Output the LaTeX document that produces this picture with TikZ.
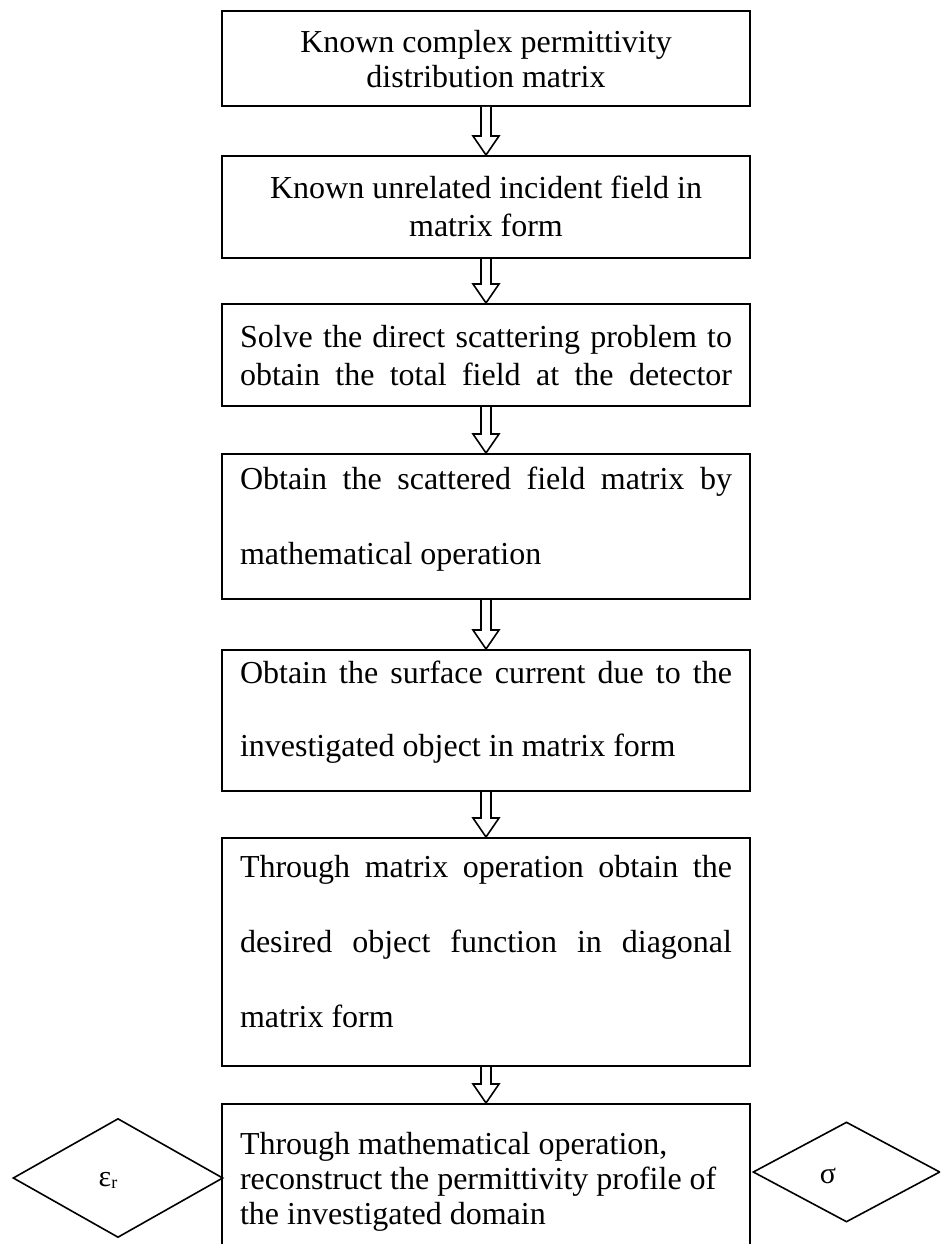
\documentclass[tikz,border=0pt]{standalone}
\usepackage{fontspec}
\setmainfont{Liberation Serif}
\usetikzlibrary{calc,shapes.geometric}
\newcommand{\jl}[1]{\makebox[\linewidth][s]{#1}}
\newcommand{\fl}{\rule{0pt}{24pt}}
\newcommand{\btext}[4]{\parbox[c][#1][t]{492pt}{\fontsize{32pt}{#3}\selectfont\vspace*{#2}#4}}
\newcommand{\harrow}[2]{\draw[hollowarrow] let \p1=(#1.south), \p2=(#2.north) in
  (\x1-5pt,\y1) -- (\x1-5pt,\y2+19pt) -- (\x1-13pt,\y2+19pt) -- (\x1,\y2) --
  (\x1+13pt,\y2+19pt) -- (\x1+5pt,\y2+19pt) -- (\x1+5pt,\y1);}
\tikzset{
  flowbox/.style={draw, line width=2pt, inner sep=0pt, minimum width=528pt, anchor=north},
  hollowarrow/.style={draw, line width=1.6pt, fill=white, line join=miter},
  sidediamond/.style={diamond, draw, line width=1.6pt, inner sep=0pt},
  sidelabel/.style={inner sep=0pt}
}
\begin{document}
\begin{tikzpicture}[x=1pt,y=-1pt]
\useasboundingbox (0,0) rectangle (940,1244);
\clip (0,0) rectangle (940,1244);
\fill[white] (0,0) rectangle (940,1244);
\node[flowbox] (b1) at (486,10) {\btext{95pt}{18pt}{35pt}{\centering\fl Known complex permittivity\par distribution matrix\par}};
\node[flowbox] (b2) at (486,155) {\btext{102pt}{18pt}{38pt}{\centering\fl Known unrelated incident field in\par matrix form\par}};
\node[flowbox] (b3) at (486,303) {\btext{102pt}{19pt}{38pt}{\fl\jl{Solve the direct scattering problem to}\par\jl{obtain the total field at the detector}\par}};
\node[flowbox] (b4) at (486,453) {\btext{145pt}{11pt}{75pt}{\fl\jl{Obtain the scattered field matrix by}\par mathematical operation\par}};
\node[flowbox] (b5) at (486,649) {\btext{141pt}{9pt}{73pt}{\fl\jl{Obtain the surface current due to the}\par investigated object in matrix form\par}};
\node[flowbox] (b6) at (486,837) {\btext{228pt}{15pt}{75pt}{\fl\jl{Through matrix operation obtain the}\par\jl{desired object function in diagonal}\par matrix form\par}};
\node[flowbox] (b7) at (486,1103) {\btext{200pt}{26pt}{35pt}{\raggedright\fl Through mathematical operation,\par reconstruct the permittivity profile of\par the investigated domain\par}};
\harrow{b1}{b2}
\harrow{b2}{b3}
\harrow{b3}{b4}
\harrow{b4}{b5}
\harrow{b5}{b6}
\harrow{b6}{b7}
\node[sidediamond, minimum width=210pt, minimum height=119pt] (eps) at (118,1178) {};
\node[sidediamond, minimum width=187pt, minimum height=100pt] (sig) at (846.5,1172) {};
\node[sidelabel] (epslabel) at (108,1180)
  {\fontsize{30pt}{34pt}\selectfont ε\raisebox{-2pt}{\fontsize{18pt}{20pt}\selectfont r}};
\node[sidelabel] (siglabel) at (828,1176)
  {\fontsize{30pt}{34pt}\selectfont σ};
\end{tikzpicture}
\end{document}
